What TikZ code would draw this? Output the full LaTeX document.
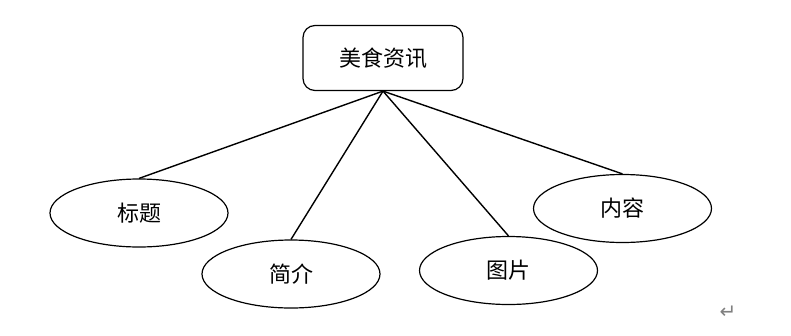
\documentclass[tikz,border=0pt]{standalone}
\usepackage{fontspec}
\newfontfamily\cjk{Noto Sans CJK SC:style=Light}
\newfontfamily\dejavu{DejaVu Sans}
\usetikzlibrary{shapes.geometric}
\begin{document}
\begin{tikzpicture}[x=1pt,y=-1pt,
  entity/.style={draw, line width=1.2pt, rounded corners=12pt, minimum width=160pt, minimum height=65pt, font=\cjk\fontsize{22}{26}\selectfont, fill=white},
  attr/.style={draw, line width=1.2pt, ellipse, minimum width=178pt, minimum height=68pt, font=\cjk\fontsize{22}{26}\selectfont, inner sep=0pt, fill=white},
  link/.style={line width=1.4pt}]
\useasboundingbox (0,0) rectangle (791,335);
\node[entity] (news) at (383,58) {美食资讯};
\node[attr] (title) at (139,213) {标题};
\node[attr] (intro) at (291,274) {简介};
\node[attr] (pic) at (508.5,270.5) {图片};
\node[attr] (content) at (622.5,208.5) {内容};
\draw[link] (news.south) -- (title.north);
\draw[link] (news.south) -- (intro.north);
\draw[link] (news.south) -- (pic.north);
\draw[link] (news.south) -- (content.north);
\node[font=\dejavu\fontsize{20}{22}\selectfont, text=gray] (ret) at (728,312) {↵};
\end{tikzpicture}
\end{document}
